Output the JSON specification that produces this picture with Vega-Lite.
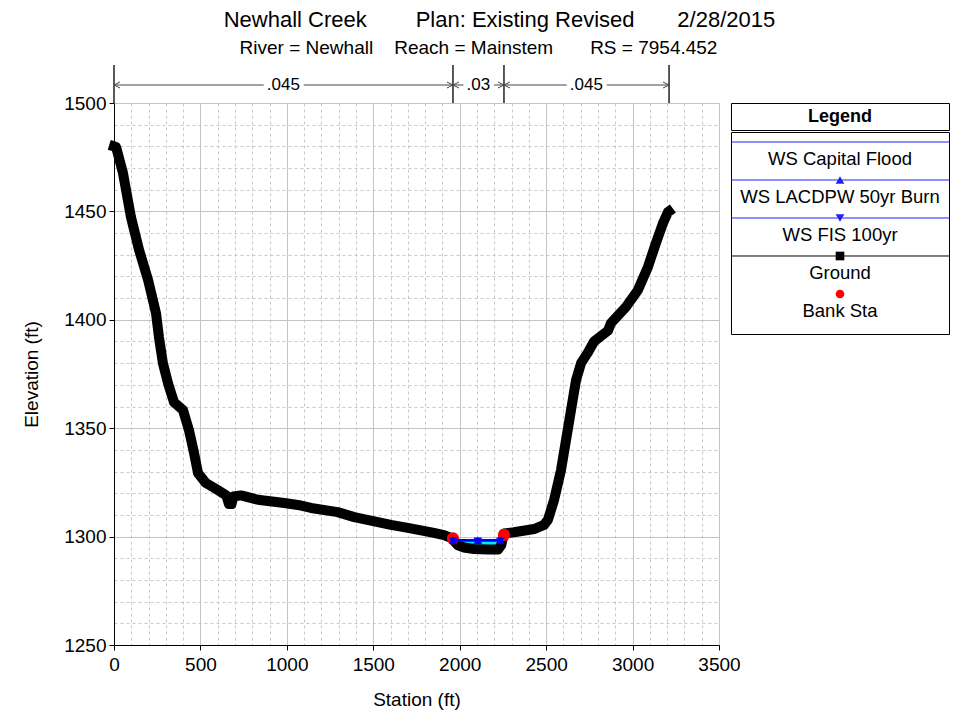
{
  "$schema": "https://vega.github.io/schema/vega-lite/v6.json",
  "background": "white",
  "padding": {"left": 22, "top": 9, "right": 5, "bottom": 5},
  "config": {
    "font": "Liberation Sans",
    "view": {"stroke": null},
    "axis": {"labelFont": "Liberation Sans", "titleFont": "Liberation Sans", "labelColor": "black", "titleColor": "black", "titleFontWeight": "normal"}
  },
  "title": {
    "text": "Newhall Creek\u00a0\u00a0\u00a0\u00a0\u00a0\u00a0\u00a0\u00a0Plan: Existing Revised\u00a0\u00a0\u00a0\u00a0\u00a0\u00a0\u00a02/28/2015",
    "subtitle": "\u200b\u00a0\u00a0\u00a0River = Newhall\u00a0\u00a0\u00a0\u00a0Reach = Mainstem\u00a0\u00a0\u00a0\u00a0\u00a0\u00a0\u00a0RS = 7954.452",
    "anchor": "start",
    "dx": 201,
    "font": "Liberation Sans",
    "fontSize": 22,
    "fontWeight": "normal",
    "color": "black",
    "subtitleFont": "Liberation Sans",
    "subtitleFontSize": 19,
    "subtitleColor": "black",
    "subtitlePadding": 7,
    "offset": 5
  },
  "datasets": {
    "ground": [
      {"station": 0, "elev": 1480}, {"station": 12, "elev": 1479.7}, {"station": 52, "elev": 1467.7},
      {"station": 98, "elev": 1447.4}, {"station": 145, "elev": 1432.2}, {"station": 197, "elev": 1418.4},
      {"station": 243, "elev": 1403.1}, {"station": 260, "elev": 1392}, {"station": 283, "elev": 1380},
      {"station": 312, "elev": 1370.9}, {"station": 347, "elev": 1362}, {"station": 399, "elev": 1358.4},
      {"station": 434, "elev": 1349}, {"station": 463, "elev": 1338.6}, {"station": 486, "elev": 1329.3},
      {"station": 532, "elev": 1324.7}, {"station": 600, "elev": 1321.5}, {"station": 650, "elev": 1319},
      {"station": 665, "elev": 1315}, {"station": 680, "elev": 1315}, {"station": 690, "elev": 1318.5},
      {"station": 735, "elev": 1319}, {"station": 832, "elev": 1317}, {"station": 985, "elev": 1315.5},
      {"station": 1063, "elev": 1314.6}, {"station": 1140, "elev": 1313.2}, {"station": 1294, "elev": 1311.3},
      {"station": 1390, "elev": 1309}, {"station": 1602, "elev": 1305.4}, {"station": 1700, "elev": 1304},
      {"station": 1851, "elev": 1301.7}, {"station": 1909, "elev": 1300.7}, {"station": 1950, "elev": 1299.4},
      {"station": 1990, "elev": 1296}, {"station": 2025, "elev": 1295}, {"station": 2083, "elev": 1294.3},
      {"station": 2163, "elev": 1294}, {"station": 2221, "elev": 1294}, {"station": 2240, "elev": 1296},
      {"station": 2256, "elev": 1301.5}, {"station": 2314, "elev": 1302}, {"station": 2430, "elev": 1303.5},
      {"station": 2488, "elev": 1305.4}, {"station": 2510, "elev": 1307.7}, {"station": 2546, "elev": 1316.9},
      {"station": 2586, "elev": 1330.7}, {"station": 2615, "elev": 1344.5}, {"station": 2644, "elev": 1358.4},
      {"station": 2673, "elev": 1372.2}, {"station": 2702, "elev": 1380}, {"station": 2742, "elev": 1385},
      {"station": 2777, "elev": 1390}, {"station": 2858, "elev": 1395}, {"station": 2875, "elev": 1398.5},
      {"station": 2962, "elev": 1406}, {"station": 3031, "elev": 1413.7}, {"station": 3089, "elev": 1424.4},
      {"station": 3135, "elev": 1435.4}, {"station": 3176, "elev": 1444.6}, {"station": 3205, "elev": 1449.7},
      {"station": 3210, "elev": 1450}
    ],
    "water": [
      {"station": 1962, "ws": 1298.3, "bed": 1298.3}, {"station": 1990, "ws": 1298.3, "bed": 1296},
      {"station": 2025, "ws": 1298.3, "bed": 1295}, {"station": 2083, "ws": 1298.3, "bed": 1294.3},
      {"station": 2163, "ws": 1298.3, "bed": 1294}, {"station": 2221, "ws": 1298.3, "bed": 1294},
      {"station": 2240, "ws": 1298.3, "bed": 1296}, {"station": 2246, "ws": 1298.3, "bed": 1298.3}
    ],
    "ws": [
      {"profile": "WS Capital Flood", "station": 1962, "elev": 1298.6},
      {"profile": "WS Capital Flood", "station": 2105, "elev": 1298.6},
      {"profile": "WS Capital Flood", "station": 2246, "elev": 1298.6},
      {"profile": "WS LACDPW 50yr Burn", "station": 1962, "elev": 1298.3},
      {"profile": "WS LACDPW 50yr Burn", "station": 2105, "elev": 1298.3},
      {"profile": "WS LACDPW 50yr Burn", "station": 2235, "elev": 1298.3},
      {"profile": "WS FIS 100yr", "station": 1962, "elev": 1297.9},
      {"profile": "WS FIS 100yr", "station": 2105, "elev": 1297.9},
      {"profile": "WS FIS 100yr", "station": 2235, "elev": 1297.9}
    ],
    "bank": [
      {"station": 1961, "elev": 1299.2},
      {"station": 2256, "elev": 1300.8}
    ],
    "nbreaks": [{"station": 0}, {"station": 1961}, {"station": 2256}, {"station": 3211}],
    "nsegs": [
      {"n": ".045", "from": 0, "to": 1961, "mid": 980},
      {"n": ".03", "from": 1961, "to": 2256, "mid": 2108},
      {"n": ".045", "from": 2256, "to": 3211, "mid": 2733}
    ],
    "items": [
      {"item": "WS Capital Flood"}, {"item": "WS LACDPW 50yr Burn"}, {"item": "WS FIS 100yr"},
      {"item": "Ground"}, {"item": "Bank Sta"}
    ]
  },
  "resolve": {"scale": {"x": "independent", "y": "independent", "color": "independent", "shape": "independent", "size": "independent"}},
  "bounds": "flush",
  "spacing": 12,
  "hconcat": [
    {
      "width": 605,
      "height": 542,
      "layer": [
        {
          "data": {"name": "water"},
          "mark": {"type": "area", "color": "#00e8ff", "opacity": 1},
          "encoding": {
            "x": {
              "field": "station", "type": "quantitative",
              "scale": {"domain": [0, 3500], "nice": false, "zero": false},
              "axis": {
                "title": "Station (ft)",
                "titleFontSize": 19, "labelFontSize": 19, "titlePadding": 16, "labelPadding": 5,
                "format": "d",
                "tickCount": 50,
                "values": [0,100,200,300,400,500,600,700,800,900,1000,1100,1200,1300,1400,1500,1600,1700,1800,1900,2000,2100,2200,2300,2400,2500,2600,2700,2800,2900,3000,3100,3200,3300,3400,3500],
                "labelExpr": "datum.value % 500 === 0 ? datum.label : ''",
                "labelOverlap": false, "labelFlush": false,
                "domainColor": "black", "domainWidth": 1,
                "tickSize": 5,
                "tickColor": {"condition": {"test": "datum.value % 500 === 0", "value": "black"}, "value": "transparent"},
                "grid": true,
                "gridColor": {"condition": {"test": "datum.value % 500 === 0", "value": "#c4c4c4"}, "value": "#c8c8c8"},
                "gridDash": {"condition": {"test": "datum.value % 500 === 0", "value": []}, "value": [3, 3]},
                "gridWidth": 1
              }
            },
            "y": {
              "field": "ws", "type": "quantitative",
              "scale": {"domain": [1250, 1500], "nice": false, "zero": false},
              "axis": {
                "title": "Elevation (ft)",
                "titleFontSize": 19, "labelFontSize": 19, "titlePadding": 22, "labelPadding": 3,
                "format": "d",
                "tickCount": 40,
                "values": [1250,1260,1270,1280,1290,1300,1310,1320,1330,1340,1350,1360,1370,1380,1390,1400,1410,1420,1430,1440,1450,1460,1470,1480,1490,1500],
                "labelExpr": "datum.value % 50 === 0 ? datum.label : ''",
                "labelOverlap": false, "labelFlush": false,
                "domainColor": "black", "domainWidth": 1,
                "tickSize": 5,
                "tickColor": {"condition": {"test": "datum.value % 50 === 0", "value": "black"}, "value": "transparent"},
                "grid": true,
                "gridColor": {"condition": {"test": "datum.value % 50 === 0", "value": "#c4c4c4"}, "value": "#c8c8c8"},
                "gridDash": {"condition": {"test": "datum.value % 50 === 0", "value": []}, "value": [3, 3]},
                "gridWidth": 1
              }
            },
            "y2": {"field": "bed"}
          }
        },
        {
          "data": {"name": "ground"},
          "mark": {"type": "line", "color": "black", "strokeWidth": 10, "strokeJoin": "round", "strokeCap": "square"},
          "encoding": {
            "x": {"field": "station", "type": "quantitative", "scale": {"domain": [0, 3500], "nice": false, "zero": false}},
            "y": {"field": "elev", "type": "quantitative", "scale": {"domain": [1250, 1500], "nice": false, "zero": false}}
          }
        },
        {
          "data": {"name": "bank"},
          "mark": {"type": "point", "shape": "circle", "filled": true, "color": "red", "size": 150, "opacity": 1},
          "encoding": {
            "x": {"field": "station", "type": "quantitative", "scale": {"domain": [0, 3500], "nice": false, "zero": false}},
            "y": {"field": "elev", "type": "quantitative", "scale": {"domain": [1250, 1500], "nice": false, "zero": false}}
          }
        },
        {
          "data": {"name": "ws"},
          "mark": {"type": "line", "color": "#0000ff", "strokeWidth": 1.3},
          "encoding": {
            "x": {"field": "station", "type": "quantitative", "scale": {"domain": [0, 3500], "nice": false, "zero": false}},
            "y": {"field": "elev", "type": "quantitative", "scale": {"domain": [1250, 1500], "nice": false, "zero": false}},
            "detail": {"field": "profile"}
          }
        },
        {
          "data": {"name": "ws"},
          "transform": [{"filter": "datum.profile !== 'WS Capital Flood'"}],
          "mark": {"type": "point", "filled": true, "color": "#0000ff", "size": 75, "opacity": 1},
          "encoding": {
            "x": {"field": "station", "type": "quantitative", "scale": {"domain": [0, 3500], "nice": false, "zero": false}},
            "y": {"field": "elev", "type": "quantitative", "scale": {"domain": [1250, 1500], "nice": false, "zero": false}},
            "shape": {"field": "profile", "type": "nominal", "scale": {"domain": ["WS LACDPW 50yr Burn", "WS FIS 100yr"], "range": ["triangle-up", "triangle-down"]}, "legend": null}
          }
        },
        {
          "data": {"name": "nbreaks"},
          "mark": {"type": "rule", "color": "#222222", "strokeWidth": 1.5, "clip": false},
          "encoding": {
            "x": {"field": "station", "type": "quantitative", "scale": {"domain": [0, 3500], "nice": false, "zero": false}},
            "y": {"datum": 1500, "scale": {"domain": [1250, 1500], "nice": false, "zero": false}},
            "y2": {"datum": 1517.5}
          }
        },
        {
          "data": {"name": "nsegs"},
          "mark": {"type": "rule", "color": "#444444", "strokeWidth": 1, "clip": false},
          "encoding": {
            "x": {"field": "from", "type": "quantitative", "scale": {"domain": [0, 3500], "nice": false, "zero": false}},
            "x2": {"field": "to"},
            "y": {"datum": 1508.3, "scale": {"domain": [1250, 1500], "nice": false, "zero": false}}
          }
        },
        {
          "data": {"name": "nsegs"},
          "mark": {"type": "point", "shape": "M 1.2 -0.6 L 0 0 L 1.2 0.6", "filled": false, "color": "#444444", "strokeWidth": 1, "size": 100, "opacity": 1, "clip": false},
          "encoding": {
            "x": {"field": "from", "type": "quantitative", "scale": {"domain": [0, 3500], "nice": false, "zero": false}},
            "y": {"datum": 1508.3, "scale": {"domain": [1250, 1500], "nice": false, "zero": false}}
          }
        },
        {
          "data": {"name": "nsegs"},
          "mark": {"type": "point", "shape": "M -1.2 -0.6 L 0 0 L -1.2 0.6", "filled": false, "color": "#444444", "strokeWidth": 1, "size": 100, "opacity": 1, "clip": false},
          "encoding": {
            "x": {"field": "to", "type": "quantitative", "scale": {"domain": [0, 3500], "nice": false, "zero": false}},
            "y": {"datum": 1508.3, "scale": {"domain": [1250, 1500], "nice": false, "zero": false}}
          }
        },
        {
          "data": {"name": "nsegs"},
          "mark": {"type": "text", "fontSize": 17, "font": "Liberation Sans", "baseline": "middle", "align": "center", "stroke": "white", "strokeWidth": 9, "fill": "white", "clip": false},
          "encoding": {
            "x": {"field": "mid", "type": "quantitative", "scale": {"domain": [0, 3500], "nice": false, "zero": false}},
            "y": {"datum": 1508.3, "scale": {"domain": [1250, 1500], "nice": false, "zero": false}},
            "text": {"field": "n"}
          }
        },
        {
          "data": {"name": "nsegs"},
          "mark": {"type": "text", "fontSize": 17, "font": "Liberation Sans", "baseline": "middle", "align": "center", "color": "black", "clip": false},
          "encoding": {
            "x": {"field": "mid", "type": "quantitative", "scale": {"domain": [0, 3500], "nice": false, "zero": false}},
            "y": {"datum": 1508.3, "scale": {"domain": [1250, 1500], "nice": false, "zero": false}},
            "text": {"field": "n"}
          }
        }
      ]
    },
    {
      "spacing": 0,
      "vconcat": [
        {
          "width": 218,
          "height": 27,
          "view": {"stroke": "black", "strokeWidth": 1},
          "data": {"values": [{"label": "Legend"}]},
          "mark": {"type": "text", "fontSize": 18, "fontWeight": "bold", "font": "Liberation Sans", "color": "black", "baseline": "middle"},
          "encoding": {"text": {"field": "label"}}
        },
        {
          "width": 218,
          "height": 202,
          "view": {"stroke": "black", "strokeWidth": 1},
          "data": {"name": "items"},
          "layer": [
            {
              "transform": [{"filter": "datum.item !== 'Bank Sta'"}],
              "mark": {"type": "rule", "strokeWidth": 1, "yOffset": -9},
              "encoding": {
                "y": {"field": "item", "type": "nominal", "sort": ["WS Capital Flood", "WS LACDPW 50yr Burn", "WS FIS 100yr", "Ground", "Bank Sta"], "scale": {"domain": ["WS Capital Flood", "WS LACDPW 50yr Burn", "WS FIS 100yr", "Ground", "Bank Sta"], "paddingInner": 0, "paddingOuter": 0.158, "align": 0}, "axis": null},
                "color": {"field": "item", "type": "nominal", "scale": {"domain": ["WS Capital Flood", "WS LACDPW 50yr Burn", "WS FIS 100yr", "Ground", "Bank Sta"], "range": ["#2020ff", "#2020ff", "#2020ff", "black", "red"]}, "legend": null}
              }
            },
            {
              "transform": [{"filter": "datum.item !== 'WS Capital Flood'"}],
              "mark": {"type": "point", "filled": true, "opacity": 1, "yOffset": -9},
              "encoding": {
                "y": {"field": "item", "type": "nominal", "sort": ["WS Capital Flood", "WS LACDPW 50yr Burn", "WS FIS 100yr", "Ground", "Bank Sta"], "scale": {"domain": ["WS Capital Flood", "WS LACDPW 50yr Burn", "WS FIS 100yr", "Ground", "Bank Sta"], "paddingInner": 0, "paddingOuter": 0.158, "align": 0}, "axis": null},
                "color": {"field": "item", "type": "nominal", "scale": {"domain": ["WS Capital Flood", "WS LACDPW 50yr Burn", "WS FIS 100yr", "Ground", "Bank Sta"], "range": ["#2020ff", "#2020ff", "#2020ff", "black", "red"]}, "legend": null},
                "shape": {"field": "item", "type": "nominal", "scale": {"domain": ["WS LACDPW 50yr Burn", "WS FIS 100yr", "Ground", "Bank Sta"], "range": ["triangle-up", "triangle-down", "square", "circle"]}, "legend": null},
                "size": {"field": "item", "type": "nominal", "scale": {"domain": ["WS LACDPW 50yr Burn", "WS FIS 100yr", "Ground", "Bank Sta"], "range": [75, 75, 60, 150]}, "legend": null}
              }
            },
            {
              "mark": {"type": "text", "fontSize": 18.5, "font": "Liberation Sans", "color": "black", "baseline": "middle", "yOffset": 8},
              "encoding": {
                "y": {"field": "item", "type": "nominal", "sort": ["WS Capital Flood", "WS LACDPW 50yr Burn", "WS FIS 100yr", "Ground", "Bank Sta"], "scale": {"domain": ["WS Capital Flood", "WS LACDPW 50yr Burn", "WS FIS 100yr", "Ground", "Bank Sta"], "paddingInner": 0, "paddingOuter": 0.158, "align": 0}, "axis": null},
                "text": {"field": "item"}
              }
            }
          ]
        }
      ]
    }
  ]
}
